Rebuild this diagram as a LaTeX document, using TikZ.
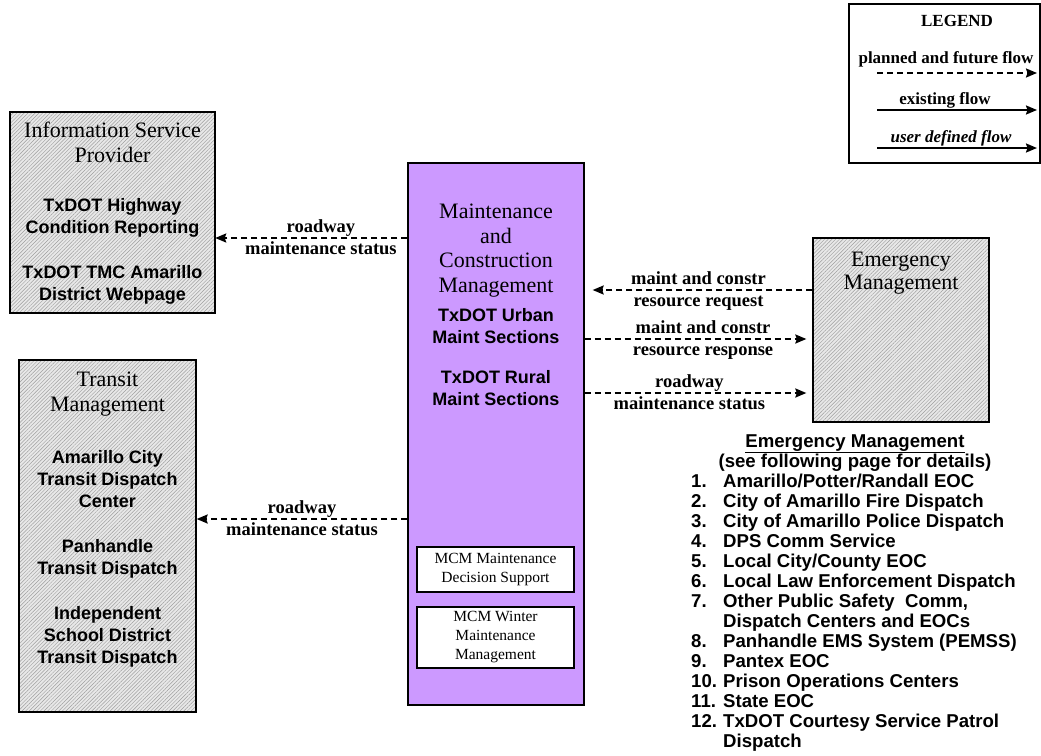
\documentclass[tikz,border=0pt]{standalone}
\usepackage{fontspec}
\setmainfont{Liberation Serif}
\newfontfamily\arialfont{Liberation Sans}
\usetikzlibrary{arrows.meta,patterns.meta}

\definecolor{mcmpurple}{RGB}{204,153,255}

\tikzset{
  hatchbox/.style={draw, line width=1.3pt, inner sep=0pt,
    preaction={fill=black!9},
    pattern={Lines[angle=45,distance=2.6pt,line width=0.45pt]}, pattern color=black!38},
  mcmbox/.style={draw, line width=1.3pt, inner sep=0pt, fill=mcmpurple},
  subbox/.style={draw, line width=1.3pt, fill=white, inner sep=0pt, align=center,
    font=\fontsize{15.5}{19}\selectfont},
  titletext/.style={anchor=north, inner sep=0pt, align=center,
    font=\fontsize{22}{25}\selectfont},
  bodytext/.style={anchor=north, inner sep=0pt, align=center,
    font=\arialfont\bfseries\fontsize{18}{22}\selectfont},
  planned/.style={line width=2pt, dash pattern=on 6pt off 4pt,
    -{Stealth[length=11pt,width=9pt,inset=1.5pt]}},
  existing/.style={line width=2pt, -{Stealth[length=11pt,width=9pt,inset=1.5pt]}},
  flowup/.style={anchor=base, yshift=5.5pt, inner sep=0pt,
    font=\bfseries\fontsize{18.5}{20}\selectfont},
  flowdn/.style={anchor=base, yshift=-16pt, inner sep=0pt,
    font=\bfseries\fontsize{18.5}{20}\selectfont},
  lgdtext/.style={anchor=base, inner sep=0pt, font=\bfseries\fontsize{17}{20}\selectfont}
}

\begin{document}
\begin{tikzpicture}[x=1pt, y=-1pt]
  \useasboundingbox (0,0) rectangle (1041,755);

  % boxes
  \node[hatchbox, minimum width=205pt, minimum height=201pt] (isp) at (112.5,212.5) {};
  \node[hatchbox, minimum width=177pt, minimum height=352pt] (transit) at (107.5,536) {};
  \node[mcmbox, minimum width=176pt, minimum height=542pt] (mcm) at (496,434) {};
  \node[hatchbox, minimum width=176pt, minimum height=184pt] (em) at (901,330) {};

  % box texts
  \node[titletext] (isptitle) at (112.5,121.5) {Information Service\\Provider};
  \node[bodytext] (ispbody) at (112.5,198) {TxDOT Highway\\Condition Reporting\\[23pt]TxDOT TMC Amarillo\\District Webpage};
  \node[titletext] (transittitle) at (107.5,372) {Transit\\Management};
  \node[bodytext] (transitbody) at (107.5,450) {Amarillo City\\Transit Dispatch\\Center\\[23pt]Panhandle\\Transit Dispatch\\[23pt]Independent\\School District\\Transit Dispatch};
  \node[titletext, font=\fontsize{22}{24.5}\selectfont] (mcmtitle) at (496,204) {Maintenance\\and\\Construction\\Management};
  \node[bodytext] (mcmbody) at (496,308) {TxDOT Urban\\Maint Sections\\[18pt]TxDOT Rural\\Maint Sections};
  \node[titletext, font=\fontsize{22}{23}\selectfont] (emtitle) at (901,252) {Emergency\\Management};

  \node[subbox, minimum width=157pt, minimum height=45pt] (mcmdecision) at (495.5,569.5) {MCM Maintenance\\Decision Support};
  \node[subbox, minimum width=157pt, minimum height=61pt] (mcmwinter) at (495.5,637.5) {MCM Winter\\Maintenance\\Management};

  % flows
  \draw[planned] (mcm.west |- 0,238) -- node[flowup, pos=0.45] {roadway} node[flowdn, pos=0.45] {maintenance status} (isp.east |- 0,238);
  \draw[planned] (mcm.west |- 0,519) -- node[flowup] {roadway} node[flowdn] {maintenance status} (transit.east |- 0,519);
  \draw[planned, shorten >=8pt] (em.west |- 0,290) -- node[flowup] {maint and constr} node[flowdn] {resource request} (mcm.east |- 0,290);
  \draw[planned, shorten >=6pt] (mcm.east |- 0,339) -- node[flowup, pos=0.52] {maint and constr} node[flowdn, pos=0.52] {resource response} (em.west |- 0,339);
  \draw[planned, shorten >=6pt] (mcm.east |- 0,393) -- node[flowup, pos=0.46] {roadway} node[flowdn, pos=0.46] {maintenance status} (em.west |- 0,393);

  % emergency management list
  \node[anchor=north, inner sep=0pt, align=center, font=\arialfont\bfseries\fontsize{18.6}{20}\selectfont] (emhead) at (855,434) {\underline{Emergency Management}\\(see following page for details)};
  \node[anchor=north west, inner sep=0pt, font=\arialfont\bfseries\fontsize{18.6}{20}\selectfont] (emlist) at (691,473) {%
    \begin{tabular}{@{}p{32pt}@{}l@{}}
      1. & Amarillo/Potter/Randall EOC\\
      2. & City of Amarillo Fire Dispatch\\
      3. & City of Amarillo Police Dispatch\\
      4. & DPS Comm Service\\
      5. & Local City/County EOC\\
      6. & Local Law Enforcement Dispatch\\
      7. & Other Public Safety\ \ Comm,\\
         & Dispatch Centers and EOCs\\
      8. & Panhandle EMS System (PEMSS)\\
      9. & Pantex EOC\\
      10. & Prison Operations Centers\\
      11. & State EOC\\
      12. & TxDOT Courtesy Service Patrol\\
          & Dispatch
    \end{tabular}};

  % legend
  \node[draw, line width=1.3pt, minimum width=191pt, minimum height=159pt, inner sep=0pt] (legend) at (944.5,83.5) {};
  \node[lgdtext] (legendtitle) at (957,26.7) {LEGEND};
  \foreach \ly/\lsty/\lname in {73/planned/plan, 110/existing/exist, 148/existing/user} {
    \coordinate (\lname-a) at (877,\ly);
    \coordinate (\lname-b) at (1037,\ly);
    \draw[\lsty] (\lname-a) -- (\lname-b);
  }
  \node[lgdtext] (plantext) at (946,63.3) {planned and future flow};
  \node[lgdtext] (existtext) at (945,104.3) {existing flow};
  \node[lgdtext] (usertext) at (951,142.7) {\itshape user defined flow};
\end{tikzpicture}
\end{document}
